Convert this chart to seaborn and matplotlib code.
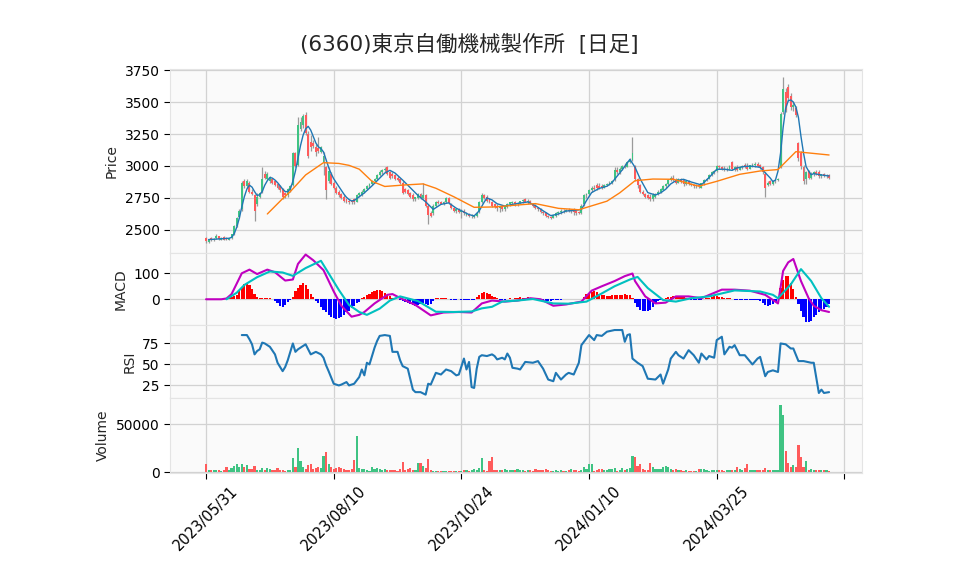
import numpy as np
import matplotlib
matplotlib.use('Agg')
import matplotlib.pyplot as plt
import seaborn as sns

title = '(6360)東京自働機械製作所  [日足]'
tick_pos = [0, 50, 100, 150, 200, 250]
tick_labels = ['2023/05/31', '2023/08/10', '2023/10/24', '2024/01/10', '2024/03/25', '']

opens = [2440,2405,2440,2420,2440,2450,2425,2445,2440,2425,
         2435,2465,2530,2600,2660,2880,2840,2870,2800,2770,
         2700,2760,2800,2940,2900,2880,2900,2880,2860,2840,
         2820,2790,2770,2810,2850,3100,3010,3290,3320,3400,
         3250,3190,3180,3150,3140,3110,3030,2990,2880,2940,
         2870,2830,2800,2780,2760,2740,2730,2725,2740,2720,
         2770,2770,2800,2820,2840,2860,2880,2900,2930,2950,
         2970,2990,2950,2940,2930,2910,2900,2870,2820,2810,
         2790,2770,2740,2750,2780,2750,2770,2690,2630,2630,
         2690,2720,2715,2700,2720,2750,2700,2670,2650,2660,
         2640,2650,2620,2620,2610,2600,2610,2640,2720,2770,
         2760,2740,2720,2700,2690,2670,2680,2660,2680,2700,
         2710,2720,2700,2710,2725,2740,2720,2730,2700,2690,
         2670,2660,2640,2630,2610,2600,2595,2610,2630,2640,
         2650,2645,2655,2650,2655,2645,2640,2630,2700,2770,
         2780,2810,2830,2850,2840,2840,2830,2850,2860,2870,
         2890,2970,2950,2980,3000,2995,3030,3050,3000,2900,
         2850,2800,2780,2770,2760,2740,2760,2780,2800,2815,
         2840,2860,2890,2910,2890,2870,2900,2890,2860,2880,
         2860,2850,2845,2850,2830,2865,2890,2900,2930,2950,
         2960,3000,2990,2980,2970,2975,3030,2980,2990,2970,
         2995,3010,2995,2980,3000,3010,3015,3005,2990,2940,
         2850,2880,2860,2880,2890,2990,3420,3580,3620,3550,
         3460,3450,3180,3100,2990,2900,2960,2910,2940,2950,
         2950,2920,2935,2920,2930]
highs = [2445,2425,2445,2435,2465,2455,2445,2450,2445,2440,
         2470,2540,2600,2665,2880,2900,2895,2880,2820,2780,
         2790,2800,2990,2960,2950,2920,2910,2890,2870,2850,
         2830,2800,2830,2850,3110,3110,3380,3380,3410,3425,
         3270,3240,3200,3170,3230,3160,3110,3000,2990,2950,
         2880,2840,2810,2790,2770,2745,2740,2735,2750,2780,
         2800,2810,2830,2850,2870,2890,2910,2940,2965,2980,
         2990,3000,2960,2950,2940,2920,2905,2880,2830,2820,
         2800,2790,2760,2790,2790,2870,2780,2700,2650,2700,
         2730,2735,2730,2730,2760,2760,2710,2680,2670,2670,
         2660,2660,2640,2635,2625,2620,2640,2730,2790,2780,
         2770,2750,2730,2710,2700,2690,2690,2690,2710,2720,
         2730,2730,2720,2730,2740,2750,2740,2735,2710,2700,
         2680,2670,2650,2640,2620,2610,2620,2640,2650,2660,
         2660,2665,2670,2660,2670,2655,2650,2700,2780,2790,
         2820,2840,2850,2870,2865,2860,2860,2870,2880,2890,
         2990,2990,2990,3010,3020,3040,3060,3225,3010,2910,
         2860,2810,2790,2780,2780,2790,2790,2810,2830,2850,
         2870,2900,2920,2930,2910,2905,2910,2900,2890,2890,
         2870,2860,2860,2860,2870,2900,2910,2940,2960,2970,
         3010,3010,3000,3000,2990,3010,3040,3000,3010,3000,
         3010,3020,3020,3010,3020,3030,3030,3015,3000,2950,
         2880,2890,2890,2900,2910,3420,3695,3610,3640,3570,
         3500,3470,3190,3120,3010,2960,2970,2950,2960,2970,
         2965,2940,2945,2935,2935]
lows = [2400,2395,2410,2410,2430,2425,2420,2420,2420,2420,
        2430,2460,2520,2590,2650,2830,2830,2790,2770,2570,
        2690,2750,2790,2900,2890,2870,2860,2840,2820,2800,
        2740,2750,2760,2800,2840,2990,3000,3270,3300,3240,
        3060,3120,3140,3080,3100,3100,2930,2740,2870,2850,
        2820,2780,2760,2740,2720,2710,2700,2705,2700,2715,
        2760,2765,2790,2810,2830,2850,2870,2890,2920,2940,
        2950,2930,2900,2910,2890,2880,2860,2780,2790,2770,
        2750,2730,2730,2740,2740,2740,2680,2550,2600,2620,
        2680,2700,2700,2695,2710,2700,2660,2640,2630,2630,
        2590,2620,2610,2600,2595,2590,2605,2635,2710,2740,
        2720,2710,2680,2670,2650,2640,2650,2650,2670,2690,
        2700,2690,2690,2700,2710,2715,2705,2700,2680,2660,
        2650,2630,2620,2600,2590,2585,2590,2605,2620,2625,
        2635,2640,2640,2635,2620,2620,2625,2625,2690,2750,
        2770,2800,2810,2810,2820,2820,2825,2840,2850,2860,
        2880,2940,2940,2970,2985,2990,3020,3040,2880,2830,
        2790,2770,2750,2740,2730,2730,2750,2770,2790,2810,
        2830,2850,2880,2880,2860,2865,2870,2840,2850,2850,
        2840,2830,2830,2830,2825,2855,2880,2895,2920,2935,
        2950,2980,2970,2960,2960,2970,2970,2960,2960,2965,
        2980,2985,2970,2975,2990,2995,2990,2980,2940,2760,
        2840,2850,2850,2870,2880,2985,3410,3420,3510,3440,
        3430,3380,3040,2980,2860,2860,2900,2900,2920,2930,
        2910,2910,2915,2910,2900]
closes = [2410,2420,2420,2430,2455,2430,2440,2425,2425,2435,
          2465,2530,2590,2650,2870,2840,2880,2800,2780,2650,
          2760,2790,2900,2910,2940,2910,2870,2850,2830,2810,
          2760,2770,2820,2840,3100,3000,3320,3340,3390,3260,
          3080,3150,3160,3110,3120,3150,3080,2810,2960,2860,
          2830,2790,2770,2750,2730,2720,2715,2715,2720,2770,
          2790,2800,2820,2840,2860,2880,2900,2930,2955,2970,
          2980,2940,2910,2920,2900,2890,2870,2790,2800,2780,
          2760,2740,2755,2780,2750,2770,2690,2620,2610,2690,
          2720,2710,2705,2720,2750,2710,2670,2650,2660,2640,
          2650,2630,2630,2610,2615,2610,2635,2720,2770,2750,
          2730,2720,2690,2680,2670,2680,2660,2685,2700,2715,
          2720,2700,2710,2725,2735,2720,2730,2710,2690,2670,
          2660,2640,2630,2610,2600,2595,2615,2635,2640,2650,
          2645,2655,2650,2655,2640,2635,2630,2690,2770,2780,
          2810,2830,2820,2830,2830,2835,2850,2860,2870,2880,
          2970,2950,2980,3000,2995,3030,3050,3100,2900,2850,
          2800,2780,2760,2750,2740,2775,2785,2800,2820,2840,
          2860,2890,2910,2890,2870,2900,2880,2860,2880,2860,
          2850,2845,2850,2840,2865,2890,2900,2930,2950,2960,
          3000,2990,2980,2970,2980,3000,2980,2990,2970,2995,
          3000,2990,2980,3005,3010,3015,3000,2990,2950,2830,
          2870,2860,2880,2890,2900,3410,3600,3440,3530,3460,
          3480,3400,3060,3000,2880,2950,2910,2940,2950,2940,
          2920,2935,2925,2930,2910]
volume = [8400,2100,2100,2300,2100,1800,1500,1800,5200,1800,
          4500,6300,8400,5600,8400,5600,7300,3100,2800,6300,
          2100,2100,4200,2100,4200,3500,2100,2100,4200,2100,
          2100,1400,2100,2100,14700,5200,25200,11500,5200,2800,
          7300,8400,3500,3800,5600,3800,16800,21000,8400,5600,
          2800,4500,4900,3800,3100,2100,2100,2800,12600,37800,
          4200,2800,3100,2100,1500,5200,3500,4500,2800,2100,
          3100,2100,2100,2100,2100,1500,3500,10800,2100,3100,
          4200,2100,2100,9000,9800,6300,4500,13600,2100,1400,
          1400,1400,1400,1500,1500,1500,1500,1500,1500,1500,
          1500,2100,2100,1400,2100,2800,2100,3800,14700,2100,
          1500,11900,16100,2100,2100,2100,2100,2800,2100,2100,
          2100,2100,3100,2100,2100,1500,2100,2100,1500,3100,
          2100,2100,2100,3100,2100,1500,1500,2100,1500,2100,
          1500,1100,2100,3100,2100,2100,1500,2100,5200,3500,
          8400,8400,1100,2100,3100,3100,2100,2100,3100,3100,
          3800,1100,2100,3800,2100,3500,3800,16800,15700,6300,
          8400,3100,2100,2100,9800,4900,3500,3100,2800,4900,
          6300,4900,3100,2100,3100,2100,2100,1400,2100,1100,
          1100,1100,1400,3100,3100,3100,2100,1400,2100,2100,
          2100,2100,2100,1500,2100,2100,2100,2100,5600,3500,
          2100,3800,8400,2100,2100,2100,2100,2100,2100,3800,
          2100,2100,2100,2100,2100,70000,59800,21700,9800,5200,
          7000,5200,28300,15400,5200,11500,2100,2800,2100,2100,
          2100,2100,2100,2100,1100]
macd_hist = [0,0,0,0,0,0,0,0,2,4,
             8,12,18,30,45,58,63,55,40,20,
             8,5,4,5,6,4,0,-5,-15,-25,
             -29,-22,-12,-3,10,30,45,55,63,55,
             40,20,8,-5,-15,-30,-40,-50,-60,-68,
             -72,-75,-72,-68,-60,-50,-45,-35,-25,-15,
             -10,3,8,15,20,27,33,37,37,32,
             25,18,12,6,3,1,-2,-6,-10,-14,
             -18,-22,-25,-22,-20,-15,-18,-24,-20,-8,
             3,5,6,5,3,1,-1,-1,-1,0,
             -3,-3,-3,-3,-3,-3,8,18,25,28,
             25,20,14,8,3,-3,-4,-3,2,3,
             1,4,6,7,6,5,7,6,4,-3,
             -6,-8,-8,-8,-8,-6,-4,-2,-1,-1,
             1,2,2,1,0,0,0,2,10,20,
             25,28,30,28,22,18,15,14,13,16,
             18,18,17,18,20,18,15,5,-15,-30,
             -40,-45,-46,-45,-40,-28,-15,-6,-3,2,
             5,8,10,12,12,12,10,8,6,4,
             -2,-3,-3,-2,-1,2,4,6,10,13,
             13,10,7,5,4,3,1,-2,-2,-2,
             -2,-2,-2,-2,-2,-2,-3,-8,-15,-22,
             -25,-24,-20,-12,10,45,75,88,89,62,
             40,10,-20,-45,-70,-86,-88,-84,-70,-60,
             -50,-42,-38,-30,-20]

# moving averages
ma_short_x = [1,5,9,10,11,12,13,14,15,16,17,18,19,20,21,22,23,24,25,26,27,28,29,30,
              31,32,33,34,35,36,37,38,39,40,41,42,43,44,45,46,47,48,49,50,51,52,53,
              54,55,56,57,58,59,60,62,65,68,70,72,74,77,80,83,86,89,92,95,98,101,103,
              105,107,109,110,112,114,117,120,123,126,129,132,135,138,141,144,147,149,
              151,154,157,159,160,163,166,168,170,173,176,178,180,182,184,187,190,194,
              197,200,203,206,208,211,214,217,219,221,222,223,224,225,226,227,228,229,
              230,231,232,233,234,235,236,237,238,241,244]
ma_short_y = [2425,2430,2435,2442,2470,2520,2590,2680,2760,2820,2850,2835,2800,2770,2775,
              2800,2850,2885,2910,2905,2890,2870,2845,2820,2800,2800,2820,2880,2960,3060,
              3160,3240,3290,3310,3280,3230,3180,3150,3135,3110,3050,2990,2940,2900,2870,
              2840,2810,2780,2755,2738,2727,2730,2745,2760,2790,2845,2905,2945,2966,2945,
              2890,2830,2770,2720,2661,2700,2712,2670,2640,2620,2610,2650,2720,2750,2735,
              2705,2687,2700,2710,2719,2690,2650,2612,2625,2648,2652,2660,2730,2792,2825,
              2842,2870,2896,2970,3052,2990,2900,2792,2773,2790,2818,2860,2885,2896,2875,
              2852,2910,2974,2975,2966,2985,2997,2998,2990,2948,2905,2878,2890,2960,3100,
              3300,3450,3510,3516,3500,3460,3380,3230,3100,2995,2960,2932,2940,2930,2922]
ma_long_x = [24,30,33,39,46,52,56,60,65,70,78,85,90,97,105,113,122,129,138,146,157,162,
             168,175,183,193,200,209,217,224,231,235,244]
ma_long_y = [2625,2745,2800,2930,3026,3020,3005,2975,2880,2840,2852,2860,2826,2760,2677,
             2680,2695,2706,2669,2658,2725,2790,2885,2898,2896,2842,2880,2935,2961,2972,
             3112,3104,3086]

macd_x = [0,6,8,10,12,14,17,20,24,27,31,34,36,39,42,46,50,53,57,60,62,66,71,73,76,82,
          88,93,99,104,108,112,117,122,127,131,136,141,147,151,155,160,164,167,168,172,
          176,180,184,189,194,202,207,213,219,224,225,226,228,230,233,236,238,241,244]
macd_y = [0,0,3,20,60,100,114,97,114,104,72,76,136,172,150,112,30,-25,-67,-60,-49,-16,
          17,20,5,-22,-62,-51,-49,-51,-16,-5,-9,-5,4,0,-25,-20,-9,33,50,70,89,99,70,11,
          -16,-13,11,11,4,37,37,33,17,-16,45,109,142,155,70,4,-25,-42,-49]
signal_x = [8,12,15,20,25,30,34,39,45,48,52,56,60,63,68,72,76,83,90,97,104,108,112,116,
            122,128,136,142,149,154,160,166,169,173,179,184,190,197,207,217,222,224,229,
            233,237,241,244]
signal_y = [0,25,55,85,107,103,90,120,148,100,36,-22,-49,-60,-36,-5,11,-7,-48,-49,-47,
            -35,-29,-9,-5,1,-16,-17,-9,17,50,76,86,43,-3,-9,4,11,34,30,17,4,57,116,70,4,-29]

rsi_x = [14,16,17,18,19,20,21,22,23,25,27,28,30,31,32,34,35,36,38,39,41,43,45,46,47,48,
         50,52,53,55,56,58,60,61,62,63,64,65,66,67,68,70,72,73,75,76,77,79,81,82,84,86,
         87,88,90,92,94,96,98,99,101,102,103,104,105,106,107,108,110,112,113,114,116,
         117,118,119,120,122,123,125,128,130,132,134,136,137,139,141,142,144,146,147,
         149,150,152,153,155,157,160,163,164,165,166,167,169,171,173,176,178,179,181,
         182,184,185,187,189,191,193,194,196,197,199,200,202,203,205,206,207,209,211,
         214,216,217,219,220,222,224,225,227,229,230,232,234,237,238,240,241,242,244]
rsi_y = [85,85,80,74,62,66,68,76,75,71,62,52,42,47,55,75,65,68,72,74,62,65,62,58,49,42,
         27,25,26,29,25,27,35,44,37,52,50,60,70,78,84,85,84,65,65,55,48,45,20,17,17,14,
         27,26,40,38,44,42,37,38,57,44,53,23,22,45,59,61,60,62,60,56,58,56,63,58,46,45,
         44,53,52,54,45,32,30,40,32,38,40,38,52,73,81,85,79,85,84,89,91,91,77,85,86,57,
         52,48,33,32,38,27,44,57,65,61,57,67,61,52,63,56,60,58,79,83,62,71,70,73,61,61,
         50,57,59,36,41,43,41,75,74,69,69,54,54,52,52,16,20,16,17]

up_col = '#3fc383'
down_col = '#ff5b5b'
grid_col = '#d2d2d2'

sns.set_style('whitegrid', {'axes.facecolor': '#fafafa', 'grid.color': grid_col,
                            'axes.edgecolor': '#e4e4e4'})
plt.rcParams['font.family'] = ['DejaVu Sans', 'Noto Sans CJK JP']
plt.rcParams['ytick.left'] = True
plt.rcParams['xtick.bottom'] = True
plt.rcParams['ytick.major.size'] = 4
plt.rcParams['xtick.major.size'] = 4
plt.rcParams['ytick.color'] = 'black'
plt.rcParams['xtick.color'] = 'black'

o = np.array(opens, dtype=float)
h = np.array(highs, dtype=float)
l = np.array(lows, dtype=float)
c = np.array(closes, dtype=float)
x = np.arange(len(c))
cols = np.where(c >= o, up_col, down_col)

fig = plt.figure(figsize=(9.58, 5.75), dpi=100)
L, W = 0.1775, 0.7223
ax1 = fig.add_axes([L, 0.56, W, 0.32])
ax2 = fig.add_axes([L, 0.4348, W, 0.1252], sharex=ax1)
ax3 = fig.add_axes([L, 0.3078, W, 0.127], sharex=ax1)
ax4 = fig.add_axes([L, 0.1774, W, 0.1304], sharex=ax1)

# price panel
ax1.vlines(x, l, h, color='#9a9a9a', linewidth=0.9, zorder=2)
body = np.maximum(np.abs(c - o), 4)
ax1.bar(x, body, bottom=np.minimum(o, c), width=0.75, color=cols, linewidth=0, zorder=3)
sns.lineplot(x=ma_short_x, y=ma_short_y, ax=ax1, color='#1f77b4', linewidth=1.0, zorder=4)
sns.lineplot(x=ma_long_x, y=ma_long_y, ax=ax1, color='#ff7f0e', linewidth=1.0, zorder=4)
ax1.set_ylim(2320, 3758)
ax1.set_yticks([2500, 2750, 3000, 3250, 3500, 3750])
ax1.set_ylabel('Price', fontsize=10)

# MACD panel
hist = np.array(macd_hist, dtype=float)
ax2.bar(x, hist, width=0.85, color=np.where(hist >= 0, 'red', 'blue'), linewidth=0, zorder=2)
sns.lineplot(x=macd_x, y=macd_y, ax=ax2, color='#c000c0', linewidth=1.5, zorder=3)
sns.lineplot(x=signal_x, y=signal_y, ax=ax2, color='#00c0c0', linewidth=1.5, zorder=3)
ax2.set_ylim(-99, 178)
ax2.set_yticks([0, 100])
ax2.set_ylabel('MACD', fontsize=10)

# RSI panel
sns.lineplot(x=rsi_x, y=rsi_y, ax=ax3, color='#1f77b4', linewidth=1.5)
ax3.set_ylim(10, 97)
ax3.set_yticks([25, 50, 75])
ax3.set_ylabel('RSI', fontsize=10)

# volume panel
ax4.bar(x, volume, width=0.85, color=cols, linewidth=0, zorder=2)
ax4.set_ylim(-1000, 77600)
ax4.set_yticks([0, 50000])
ax4.set_ylabel('Volume', fontsize=10)

for ax in (ax1, ax2, ax3, ax4):
    ax.set_xlim(-14.1, 256.9)
    ax.set_xticks(tick_pos)
    ax.grid(True, color=grid_col, linewidth=0.9)
    ax.tick_params(axis='y', labelsize=10, length=4, width=0.8)
    ax.set_xlabel('')
    for s in ax.spines.values():
        s.set_color('#e4e4e4')
        s.set_linewidth(0.8)
for ax in (ax1, ax2, ax3):
    ax.tick_params(axis='x', bottom=False, labelbottom=False)
ax4.set_xticklabels(tick_labels, rotation=45, fontsize=10.5)
ax4.tick_params(axis='x', length=4, width=0.8)

fig.text(0.4896, 0.922, title, ha='center', va='center', fontsize=15.5)

fig.savefig('out.png', dpi=100)
